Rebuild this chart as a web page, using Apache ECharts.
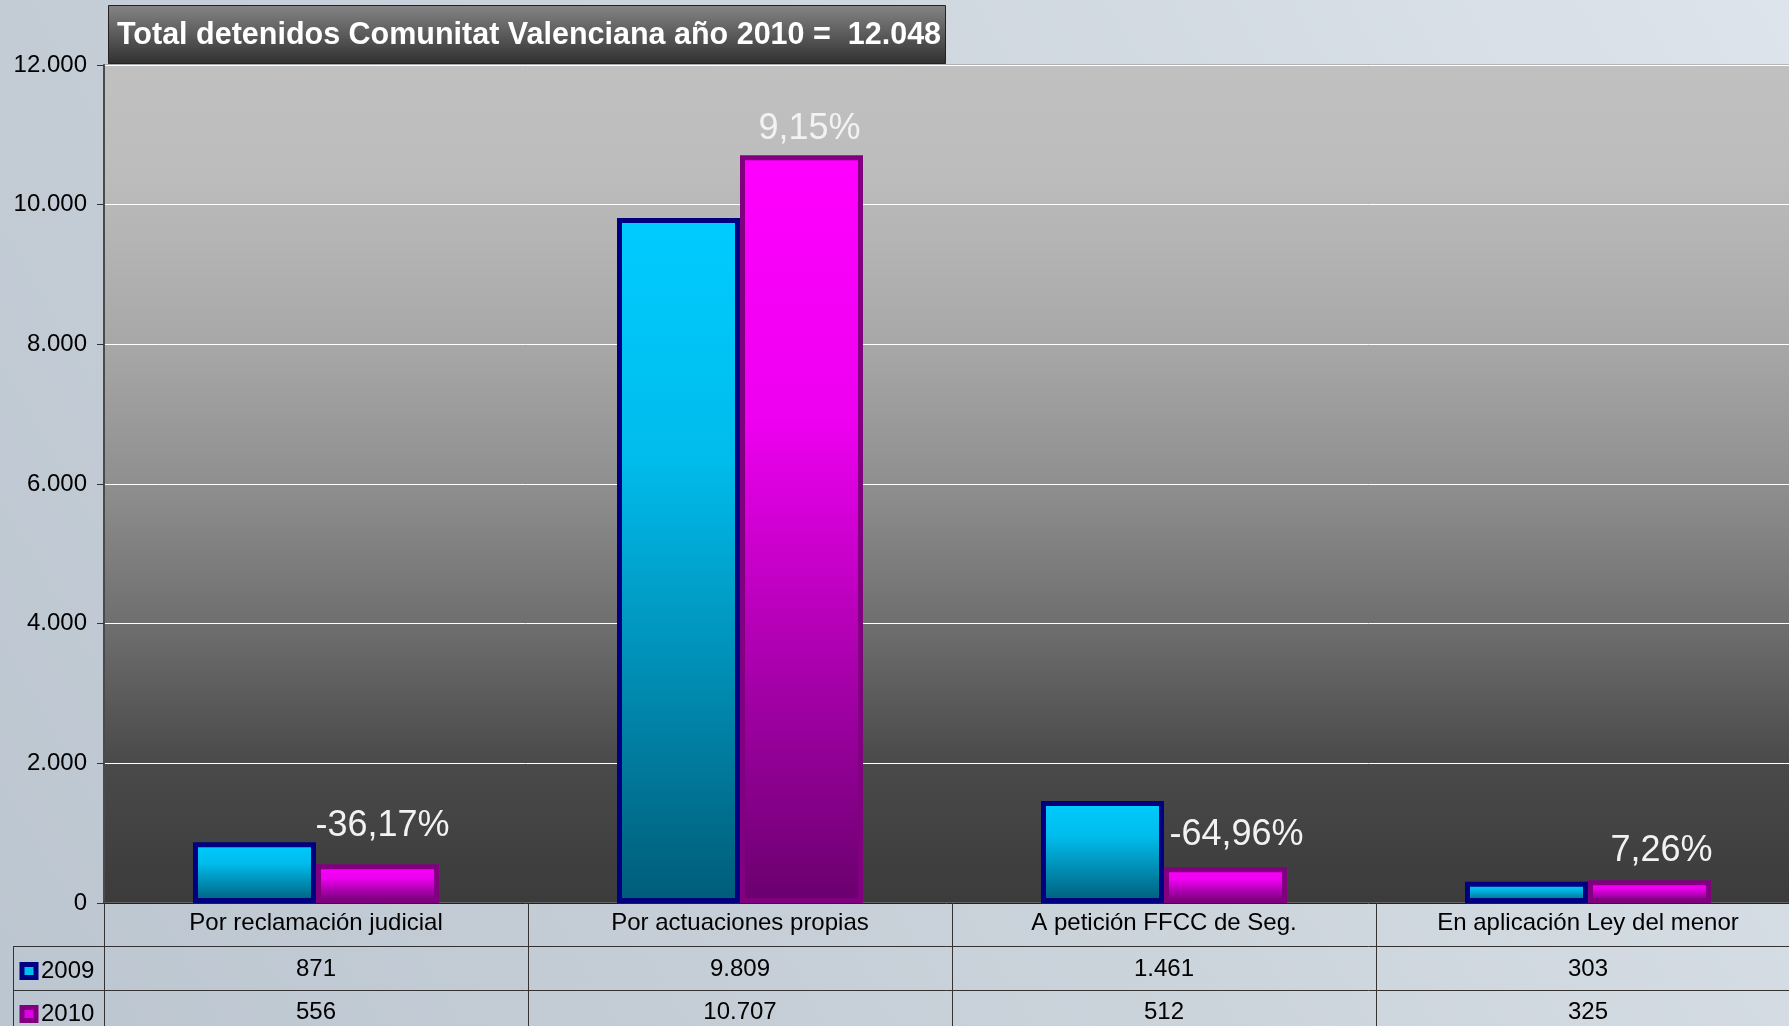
<!DOCTYPE html>
<html>
<head>
<meta charset="utf-8">
<script src="https://cdn.jsdelivr.net/npm/echarts@6/dist/echarts.min.js"></script>
<style>
html,body{margin:0;padding:0;width:1789px;height:1026px;overflow:hidden;}
#c{width:1789px;height:1026px;}
</style>
</head>
<body>
<div id="c"></div>
<script>
const categories = ['Por reclamación judicial', 'Por actuaciones propias', 'A petición FFCC de Seg.', 'En aplicación Ley del menor'];
const values2009 = [871, 9809, 1461, 303];
const values2010 = [556, 10707, 512, 325];
const seriesNames = ['2009', '2010'];
const yTicks = [0, 2000, 4000, 6000, 8000, 10000, 12000];
const titleText = 'Total detenidos Comunitat Valenciana año 2010 =  12.048';

// label placement tweaks (style only)
const pctOffsets = [[5, -15], [8, -3], [11, -9], [12, -6]];

const FONT = "'Liberation Sans', Arial, sans-serif";
const fmt = n => String(n).replace(/\B(?=(\d{3})+(?!\d))/g, '.');
const pct = i => {
  const v = (values2010[i] - values2009[i]) / values2009[i] * 100;
  return v.toFixed(2).replace('.', ',') + '%';
};

const grad = (top, mid, bottom) => ({
  type: 'linear', x: 0, y: 0, x2: 0, y2: 1,
  colorStops: [{offset: 0, color: top}, {offset: 0.35, color: mid}, {offset: 1, color: bottom}]
});

const chart = echarts.init(document.getElementById('c'), null, {renderer: 'canvas'});

const tableAxis = (offset, formatter, tickLen, margin) => ({
  type: 'category',
  data: categories,
  position: 'bottom',
  gridIndex: 0,
  offset: offset,
  axisLine: {show: true, lineStyle: {color: '#333', width: 1}},
  axisTick: {show: true, length: tickLen, lineStyle: {color: '#333', width: 1}},
  axisLabel: {show: true, margin: margin, fontSize: 24, color: '#000', fontFamily: FONT, formatter: formatter},
  splitLine: {show: false}
});

const legendItem = (name, top, fill, border) => ({
  orient: 'vertical',
  left: 19.5, top: top,
  padding: 0,
  itemWidth: 14, itemHeight: 13,
  icon: 'rect',
  textStyle: {fontSize: 24, color: '#000', fontFamily: FONT},
  data: [{name: name, itemStyle: {color: fill, borderColor: border, borderWidth: 5}}]
});

chart.setOption({
  animation: false,
  backgroundColor: {
    type: 'linear', x: 0, y: 1, x2: 1, y2: 0,
    colorStops: [{offset: 0, color: '#BCC6D0'}, {offset: 0.5, color: '#CBD3DB'}, {offset: 1, color: '#DDE4EB'}]
  },
  title: {
    text: titleText,
    left: 117, top: 20,
    padding: 0,
    textStyle: {color: '#FFFFFF', fontSize: 30.5, fontWeight: 'bold', fontFamily: FONT}
  },
  graphic: [
    {
      type: 'rect', z: 1,
      shape: {x: 108.5, y: 5.5, width: 837, height: 58},
      style: {
        fill: {type: 'linear', x: 0, y: 0, x2: 0, y2: 1,
          colorStops: [{offset: 0, color: '#858585'}, {offset: 1, color: '#303030'}]},
        stroke: '#222', lineWidth: 1
      }
    },
    {type: 'line', z: 5, shape: {x1: 13, y1: 946.5, x2: 104, y2: 946.5}, style: {stroke: '#333', lineWidth: 1}},
    {type: 'line', z: 5, shape: {x1: 13, y1: 990.5, x2: 104, y2: 990.5}, style: {stroke: '#333', lineWidth: 1}},
    {type: 'line', z: 5, shape: {x1: 13.5, y1: 946, x2: 13.5, y2: 1026}, style: {stroke: '#333', lineWidth: 1}}
  ],
  legend: [
    legendItem(seriesNames[0], 959, '#00BFEF', '#000080'),
    legendItem(seriesNames[1], 1002, '#E000E8', '#800080')
  ],
  grid: {
    left: 104, top: 65, width: 1696, bottom: 123,
    outerBoundsMode: 'none',
    containLabel: false,
    show: true,
    borderColor: '#8A8A8A', borderWidth: 1,
    backgroundColor: {
      type: 'linear', x: 0, y: 0, x2: 0, y2: 1,
      colorStops: [
        {offset: 0, color: '#C0C0C0'},
        {offset: 0.12, color: '#BDBDBD'},
        {offset: 0.33, color: '#A8A8A8'},
        {offset: 0.5, color: '#8F8F8F'},
        {offset: 0.67, color: '#6E6E6E'},
        {offset: 0.83, color: '#4A4A4A'},
        {offset: 1, color: '#3B3B3B'}
      ]
    }
  },
  xAxis: [
    {
      type: 'category',
      data: categories,
      position: 'bottom',
      axisLine: {show: true, lineStyle: {color: '#222', width: 1}},
      axisTick: {show: true, length: 43, lineStyle: {color: '#333', width: 1}},
      axisLabel: {show: true, margin: 8, fontSize: 24, color: '#000', fontFamily: FONT},
      splitLine: {show: false}
    },
    tableAxis(43, (v, i) => fmt(values2009[i]), 44, 11),
    tableAxis(87, (v, i) => fmt(values2010[i]), 40, 10)
  ],
  yAxis: {
    type: 'value',
    min: yTicks[0], max: yTicks[yTicks.length - 1], interval: yTicks[1] - yTicks[0],
    axisLine: {show: true, lineStyle: {color: '#4A4A4A', width: 2}},
    axisTick: {show: true, length: 7, lineStyle: {color: '#333', width: 1}},
    axisLabel: {margin: 17, fontSize: 24, color: '#000', fontFamily: FONT, formatter: v => fmt(v)},
    splitLine: {show: true, lineStyle: {color: '#FFFFFF', width: 1}}
  },
  series: [
    {
      name: seriesNames[0],
      type: 'bar',
      xAxisIndex: 0,
      barWidth: 123,
      barGap: '0%',
      data: values2009,
      itemStyle: {color: grad('#00CCFF', '#00BCEC', '#005C78'), borderColor: '#000080', borderWidth: 5},
      z: 3
    },
    {
      name: seriesNames[1],
      type: 'bar',
      xAxisIndex: 0,
      barWidth: 123,
      barGap: '0%',
      data: values2010.map((v, i) => ({
        value: v,
        label: {offset: pctOffsets[i]}
      })),
      itemStyle: {color: grad('#FF00FF', '#EE00F0', '#6A006E'), borderColor: '#800080', borderWidth: 5},
      label: {
        show: true, position: 'top', distance: 5,
        fontSize: 36, color: '#F2F2F2', fontFamily: FONT,
        formatter: p => pct(p.dataIndex)
      },
      z: 4
    }
  ]
});
</script>
</body>
</html>
